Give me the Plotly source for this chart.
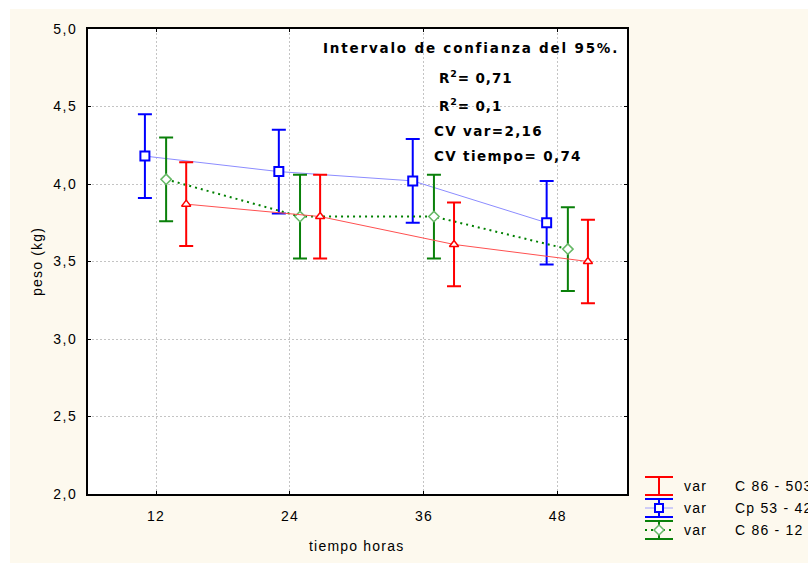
import plotly.graph_objects as go

# Sampling times (hours) and mean weights with 95% CI half-widths
horas = [12, 24, 36, 48]

c86_503_media = [3.87, 3.79, 3.61, 3.50]
c86_503_ic = [0.27, 0.27, 0.27, 0.27]

cp53_42_media = [4.18, 4.08, 4.02, 3.75]
cp53_42_ic = [0.27, 0.27, 0.27, 0.27]

c86_12_media = [4.03, 3.79, 3.79, 3.58]
c86_12_ic = [0.27, 0.27, 0.27, 0.27]

y_ticks = [2.0, 2.5, 3.0, 3.5, 4.0, 4.5, 5.0]

FONT = "Liberation Sans"
BOLD_FONT = "DejaVu Sans"
CREAM = "#fdf9ee"

# plot area in pixels (for placing the hand-drawn legend and notes)
L, R, T, B = 88, 627, 29, 494


def xp(px):
    return (px - L) / (R - L)


def yp(py):
    return (B - py) / (B - T)


def spaced(txt, sp):
    return f'<span style="letter-spacing:{sp}px">{txt}</span>'


def shifted(vals, d):
    return [v + d for v in vals]


fig = go.Figure()

# Cp 53 - 42 (blue squares)
fig.add_trace(go.Scatter(
    x=shifted(horas, -1.0), y=cp53_42_media, mode="lines+markers",
    line=dict(color="#8c8cff", width=1),
    marker=dict(symbol="square", size=9, color="white",
                line=dict(color="#0000ff", width=2)),
    error_y=dict(type="data", array=cp53_42_ic, color="#0000ff",
                 thickness=2, width=7),
    showlegend=False,
))

# C 86 - 12 (green diamonds, dotted)
fig.add_trace(go.Scatter(
    x=shifted(horas, 0.9), y=c86_12_media, mode="lines+markers",
    line=dict(color="#008000", width=2, dash="2px,4px"),
    marker=dict(symbol="diamond", size=8, color="white",
                line=dict(color="#66b866", width=1.5)),
    error_y=dict(type="data", array=c86_12_ic, color="#0a800a",
                 thickness=2, width=7),
    showlegend=False,
))

# C 86 - 503 (red triangles)
fig.add_trace(go.Scatter(
    x=shifted(horas, 2.7), y=c86_503_media, mode="lines+markers",
    line=dict(color="#ff5050", width=1),
    marker=dict(symbol="triangle-up", size=8, color="white",
                line=dict(color="#ff0000", width=1.5)),
    error_y=dict(type="data", array=c86_503_ic, color="#ff0000",
                 thickness=2, width=7),
    showlegend=False,
))

shapes = [
    # cream page with a thin white border at top and left
    dict(type="rect", xref="paper", yref="paper", layer="below",
         x0=xp(10), x1=xp(820), y0=yp(580), y1=yp(9),
         fillcolor=CREAM, line=dict(width=0)),
    dict(type="rect", xref="paper", yref="paper", layer="below",
         x0=0, x1=1, y0=0, y1=1, fillcolor="white", line=dict(width=0)),
]

# legend: hand-built error-bar symbols
lx0, lx1 = 645, 673
lxc = (lx0 + lx1) / 2
legend_rows = [
    ("#ff0000", 486, None, "C 86 - 503"),
    ("#0000ff", 508, "square", "Cp 53 - 42"),
    ("#0a800a", 530, "diamond", "C 86 - 12"),
]
annotations = []
for color, cy, sym, label in legend_rows:
    for dy in (-9, 9):
        shapes.append(dict(type="line", xref="paper", yref="paper",
                           x0=xp(lx0), x1=xp(lx1), y0=yp(cy + dy), y1=yp(cy + dy),
                           line=dict(color=color, width=2)))
    shapes.append(dict(type="line", xref="paper", yref="paper",
                       x0=xp(lxc), x1=xp(lxc), y0=yp(cy - 9), y1=yp(cy + 9),
                       line=dict(color=color, width=2)))
    if sym == "square":
        shapes.append(dict(type="line", xref="paper", yref="paper",
                           x0=xp(lx0), x1=xp(lx1), y0=yp(cy), y1=yp(cy),
                           line=dict(color="#a0a0ff", width=1)))
        shapes.append(dict(type="rect", xref="paper", yref="paper",
                           x0=xp(lxc - 4), x1=xp(lxc + 4), y0=yp(cy + 4), y1=yp(cy - 4),
                           fillcolor="white", line=dict(color="#0000ff", width=2)))
    elif sym == "diamond":
        shapes.append(dict(type="line", xref="paper", yref="paper",
                           x0=xp(lx0), x1=xp(lx1), y0=yp(cy), y1=yp(cy),
                           line=dict(color="#008000", width=2, dash="2px,4px")))
        path = (f"M {xp(lxc - 5)} {yp(cy)} L {xp(lxc)} {yp(cy - 5)} "
                f"L {xp(lxc + 5)} {yp(cy)} L {xp(lxc)} {yp(cy + 5)} Z")
        shapes.append(dict(type="path", xref="paper", yref="paper", path=path,
                           fillcolor="white", line=dict(color="#66b866", width=1.5)))
    annotations.append(dict(xref="paper", yref="paper", x=xp(682), y=yp(cy),
                            xanchor="left", yanchor="middle", showarrow=False,
                            text=spaced("var", 1.2),
                            font=dict(family=FONT, size=14, color="black")))
    annotations.append(dict(xref="paper", yref="paper", x=xp(733), y=yp(cy),
                            xanchor="left", yanchor="middle", showarrow=False,
                            text=spaced(label, 1.2),
                            font=dict(family=FONT, size=14, color="black")))

# statistics notes
notes = [
    ("Intervalo de confianza del 95%.", 321, 48, 1.8),
    ("R<sup>2</sup>= 0,71", 437, 77, 0.9),
    ("R<sup>2</sup>= 0,1", 437, 105, 0.9),
    ("CV var=2,16", 432, 131, 1.35),
    ("CV tiempo= 0,74", 432, 156, 1.35),
]
for txt, x, y, sp in notes:
    annotations.append(dict(xref="paper", yref="paper", x=xp(x), y=yp(y),
                            xanchor="left", yanchor="middle", showarrow=False,
                            text=f"<b>{spaced(txt, sp)}</b>",
                            font=dict(family=BOLD_FONT, size=13.5, color="black")))

# axis titles
annotations.append(dict(xref="paper", yref="paper", x=xp(37), y=yp(262),
                        xanchor="center", yanchor="middle", showarrow=False,
                        textangle=-90, text=spaced("peso (kg)", 1.2),
                        font=dict(family=FONT, size=14, color="black")))
annotations.append(dict(xref="paper", yref="paper", x=xp(356), y=yp(546),
                        xanchor="center", yanchor="middle", showarrow=False,
                        text=spaced("tiempo horas", 1.2),
                        font=dict(family=FONT, size=14, color="black")))

axis_common = dict(
    showline=True, linecolor="black", linewidth=2, mirror="ticks",
    ticks="inside", ticklen=3, tickcolor="black", tickwidth=1,
    showgrid=True, gridcolor="#c4c4c4", griddash="2px,2px", gridwidth=1,
    zeroline=False, tickfont=dict(family=FONT, size=14, color="black"),
)

x_ticktext = [spaced(str(h), 1.2) for h in horas]
y_ticktext = [spaced(f"{v:.1f}".replace(".", ","), 1.5) for v in y_ticks]

fig.update_layout(
    width=808, height=563,
    margin=dict(l=L, r=808 - R, t=T, b=563 - B),
    paper_bgcolor="white", plot_bgcolor="white",
    xaxis=dict(range=[5.9, 54.2], tickvals=horas, ticktext=x_ticktext,
               ticklabelstandoff=8, **axis_common),
    yaxis=dict(range=[2.0, 5.0], tickvals=y_ticks, ticktext=y_ticktext,
               ticklabelstandoff=6, **axis_common),
    shapes=shapes, annotations=annotations, showlegend=False,
)

fig.write_html("out.html")
